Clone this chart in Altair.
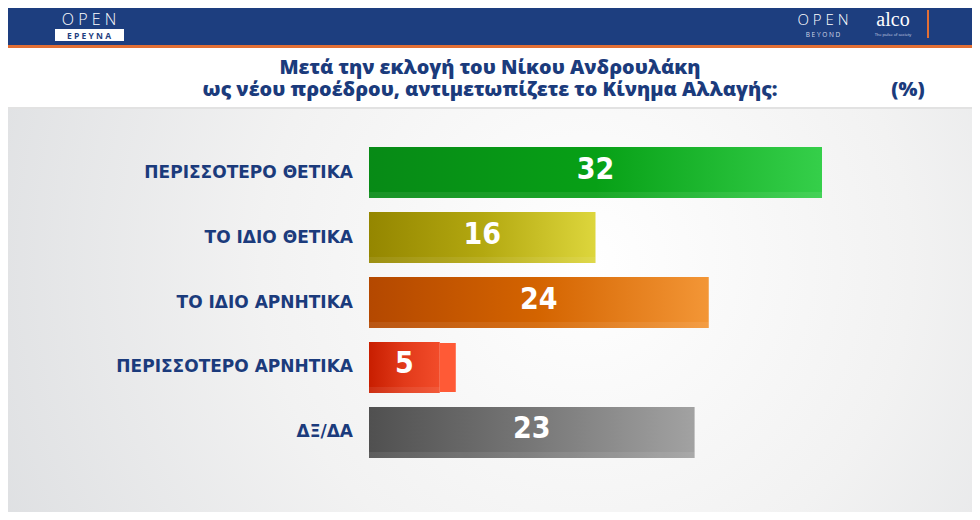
import altair as alt
import pandas as pd

# ---------------- data ----------------
categories = ["ΠΕΡΙΣΣΟΤΕΡΟ ΘΕΤΙΚΑ", "ΤΟ ΙΔΙΟ ΘΕΤΙΚΑ", "ΤΟ ΙΔΙΟ ΑΡΝΗΤΙΚΑ",
              "ΠΕΡΙΣΣΟΤΕΡΟ ΑΡΝΗΤΙΚΑ", "ΔΞ/ΔΑ"]
values = [32, 16, 24, 5, 23]
title_lines = ["Μετά την εκλογή του Νίκου Ανδρουλάκη",
               "ως νέου προέδρου, αντιμετωπίζετε το Κίνημα Αλλαγής:"]
unit_label = "(%)"

# ---------------- styles ----------------
bar_grad = [
    ("#078a16", "#07a016", "#35cf4a"),
    ("#948600", "#b3a810", "#ddd63c"),
    ("#b44800", "#d46400", "#f39636"),
    ("#c81e00", "#e23a1a", "#f24c2a"),
    ("#505050", "#777777", "#a2a2a2"),
]
W, H = 964, 504
NAVY = "#1b3b7c"
HEADER = "#1d3e7f"
ORANGE = "#e36f34"

df = pd.DataFrame({"cat": categories, "value": values})
one = pd.DataFrame({"k": [0]})

xs = alt.Scale(domain=[0, 32], range=[361, 814])
ys = alt.Scale(range=[139, 450], paddingInner=0.215, paddingOuter=0)
X = alt.X("value:Q", scale=xs, axis=None)
Y = alt.Y("cat:N", sort=categories, scale=ys, axis=None)


def lin(stops):
    n = len(stops) - 1
    return alt.Gradient(gradient="linear", x1=0, x2=1, y1=0, y2=0,
                        stops=[alt.GradientStop(color=c, offset=i / n) for i, c in enumerate(stops)])


layers = []

# background
layers.append(alt.Chart(one).mark_rect(color=alt.Gradient(
    gradient="radial", x1=0.6, y1=0.45, r1=0, x2=0.6, y2=0.45, r2=0.75,
    stops=[alt.GradientStop(color="#ffffff", offset=0),
           alt.GradientStop(color="#f2f2f2", offset=0.45),
           alt.GradientStop(color="#d9dbde", offset=1)])).encode(
    x=alt.value(0), x2=alt.value(W), y=alt.value(100), y2=alt.value(H)))
# white title band
layers.append(alt.Chart(one).mark_rect(color="#ffffff").encode(
    x=alt.value(0), x2=alt.value(W), y=alt.value(40), y2=alt.value(100)))
layers.append(alt.Chart(one).mark_rect(color="#e2e2e2").encode(
    x=alt.value(0), x2=alt.value(W), y=alt.value(99), y2=alt.value(101)))
# header
layers.append(alt.Chart(one).mark_rect(color=HEADER).encode(
    x=alt.value(0), x2=alt.value(W), y=alt.value(0), y2=alt.value(37)))
layers.append(alt.Chart(one).mark_rect(color=ORANGE).encode(
    x=alt.value(0), x2=alt.value(W), y=alt.value(37), y2=alt.value(40)))

# logos
layers.append(alt.Chart(one).mark_text(text="O P E N", font="Open Sans", fontWeight=300,
                                        fontSize=16, color="white", align="center", baseline="middle").encode(
    x=alt.value(81), y=alt.value(12)))
layers.append(alt.Chart(one).mark_rect(color="white").encode(
    x=alt.value(47), x2=alt.value(116), y=alt.value(21), y2=alt.value(33)))
layers.append(alt.Chart(one).mark_text(text="Ε Ρ Ε Υ Ν Α", font="Open Sans", fontWeight="bold",
                                        fontSize=8.5, color=HEADER, align="center", baseline="middle").encode(
    x=alt.value(81), y=alt.value(27.5)))
layers.append(alt.Chart(one).mark_text(text="O P E N", font="Open Sans", fontWeight=300,
                                        fontSize=15, color="white", align="center", baseline="middle").encode(
    x=alt.value(815), y=alt.value(12)))
layers.append(alt.Chart(one).mark_text(text="B E Y O N D", font="Open Sans",
                                        fontSize=6.5, color="#d0d8e8", align="center", baseline="middle").encode(
    x=alt.value(815), y=alt.value(27)))
layers.append(alt.Chart(one).mark_text(text="alco", font="Liberation Serif",
                                        fontSize=20, color="white", align="center", baseline="middle").encode(
    x=alt.value(885), y=alt.value(12)))
layers.append(alt.Chart(one).mark_text(text="The pulse of society", font="Open Sans",
                                        fontSize=4, color="#d0d8e8", align="center", baseline="middle").encode(
    x=alt.value(885), y=alt.value(27)))
layers.append(alt.Chart(one).mark_rect(color=ORANGE).encode(
    x=alt.value(919), x2=alt.value(921), y=alt.value(2), y2=alt.value(30)))

# title (two lines in one text mark)
layers.append(alt.Chart(one).mark_text(text=title_lines, font="Open Sans", fontWeight=800,
                                        fontSize=19.8, lineHeight=22, color=NAVY, align="center",
                                        baseline="middle").encode(
    x=alt.value(482), y=alt.value(60)))
layers.append(alt.Chart(one).mark_text(text=unit_label, font="Open Sans", fontWeight=800,
                                        fontSize=20, color=NAVY, align="center", baseline="middle").encode(
    x=alt.value(900), y=alt.value(82)))

# bars
for cat, g in zip(categories, bar_grad):
    base = alt.Chart(df).transform_filter(alt.datum.cat == cat)
    layers.append(base.mark_bar(color=lin(list(g))).encode(x=X, y=Y))
    layers.append(base.mark_bar(color="#ffffff", opacity=0.08, height=6, yOffset=22.5).encode(x=X, y=Y))

# side face of the shortest bar (perspective)
layers.append(alt.Chart(df).transform_filter(alt.datum.value < 10).mark_rect(
    color="#ff5a36", width=16, height=49, xOffset=8).encode(
    x=alt.X("value:Q", scale=xs, axis=None), y=Y))

# category labels
layers.append(alt.Chart(df).mark_text(font="DejaVu Sans", fontWeight="bold", fontSize=17,
                                       color=NAVY, align="right", baseline="middle").encode(
    x=alt.value(345), y=Y, text="cat:N"))

# values
layers.append(alt.Chart(df).transform_calculate(mid="datum.value / 2").mark_text(
    font="DejaVu Sans Condensed, Roboto Condensed, Roboto, sans-serif", fontWeight="bold",
    fontSize=30, color="white", align="center", baseline="middle", yOffset=-3).encode(
    x=alt.X("mid:Q", scale=xs, axis=None), y=Y, text="value:Q"))

chart = alt.layer(*layers).properties(
    width=W, height=H, autosize=alt.AutoSizeParams(type="none"), padding=0
).configure_view(stroke=None)

chart.save("out.html", embed_options={"renderer": "svg", "actions": False})
